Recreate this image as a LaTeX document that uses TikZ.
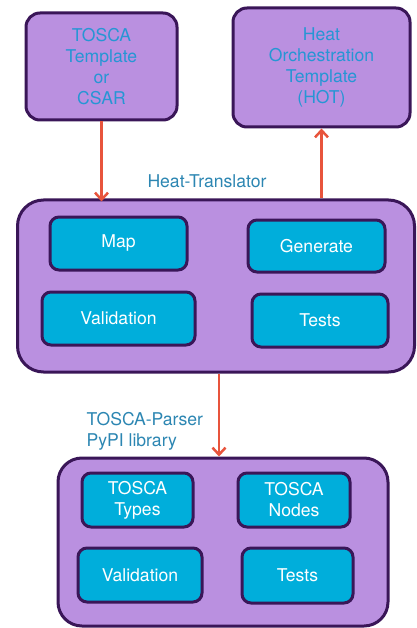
\documentclass[tikz,border=0pt]{standalone}
\usepackage{fontspec}
\setmainfont{TeX Gyre Heros}
\usepackage{tikz}
\usetikzlibrary{arrows.meta}

\definecolor{boxfill}{RGB}{186,144,224}
\definecolor{boxline}{RGB}{58,22,88}
\definecolor{partfill}{RGB}{0,174,219}
\definecolor{titleblue}{RGB}{38,150,212}
\definecolor{labelblue}{RGB}{44,134,178}
\definecolor{arrowred}{RGB}{232,84,60}

\begin{document}
\begin{tikzpicture}[x=1pt, y=-1pt, >={Straight Barb[length=7pt,width=13pt]},
    every node/.style={font=\fontsize{17.6}{21}\selectfont},
    outer/.style={draw=boxline, line width=3pt, fill=boxfill, rounded corners=14pt,
        text=titleblue, align=center, inner sep=0pt},
    part/.style={draw=boxline, line width=3pt, fill=partfill, rounded corners=9pt,
        text=white, align=center, inner sep=0pt},
    flow/.style={->, draw=arrowred, line width=2.5pt}]
    \useasboundingbox (0,0) rectangle (416,628);

    % Input and output
    \node[outer, minimum width=151pt, minimum height=107pt] (tosca) at (101.5,66.5)
        {TOSCA\\Template\\or\\CSAR};
    \node[outer, minimum width=177pt, minimum height=119pt] (hot) at (321.5,67.5)
        {Heat\\Orchestration\\Template\\(HOT)};

    % Heat-Translator
    \node[outer, minimum width=397pt, minimum height=172pt, rounded corners=26pt] (translator) at (216,286) {};
    \node[text=labelblue] (translatorlabel) at (207,181) {Heat-Translator};
    \node[part, minimum width=137pt, minimum height=53pt] (map) at (118.5,243.5) {Map};
    \node[part, minimum width=137pt, minimum height=52pt] (generate) at (316.5,246) {Generate};
    \node[part, minimum width=153pt, minimum height=53pt] (validation) at (118.5,318.5) {Validation};
    \node[part, minimum width=136pt, minimum height=53pt] (tests) at (320,320.5) {Tests};

    % TOSCA-Parser
    \node[outer, minimum width=330pt, minimum height=168pt, rounded corners=24pt] (parser) at (223,542) {};
    \node[text=labelblue, align=left, anchor=west] (parserlabel) at (83,431)
        {TOSCA-Parser\\PyPI library};
    \node[part, minimum width=111pt, minimum height=54pt] (types) at (137.5,500) {TOSCA\\Types};
    \node[part, minimum width=112pt, minimum height=54pt] (nodes) at (294,500) {TOSCA\\Nodes};
    \node[part, minimum width=124pt, minimum height=54pt] (pvalidation) at (140,575) {Validation};
    \node[part, minimum width=111pt, minimum height=55pt] (ptests) at (297.5,575.5) {Tests};

    % Arrows
    \draw[flow] (tosca.south) -- ([yshift=-3pt]tosca.south |- translator.north);
    \draw[flow] (hot.south |- translator.north) -- (hot.south);
    \draw[flow] ([xshift=3pt]translator.south) -- ([xshift=3pt]translator.south |- parser.north);
\end{tikzpicture}
\end{document}
